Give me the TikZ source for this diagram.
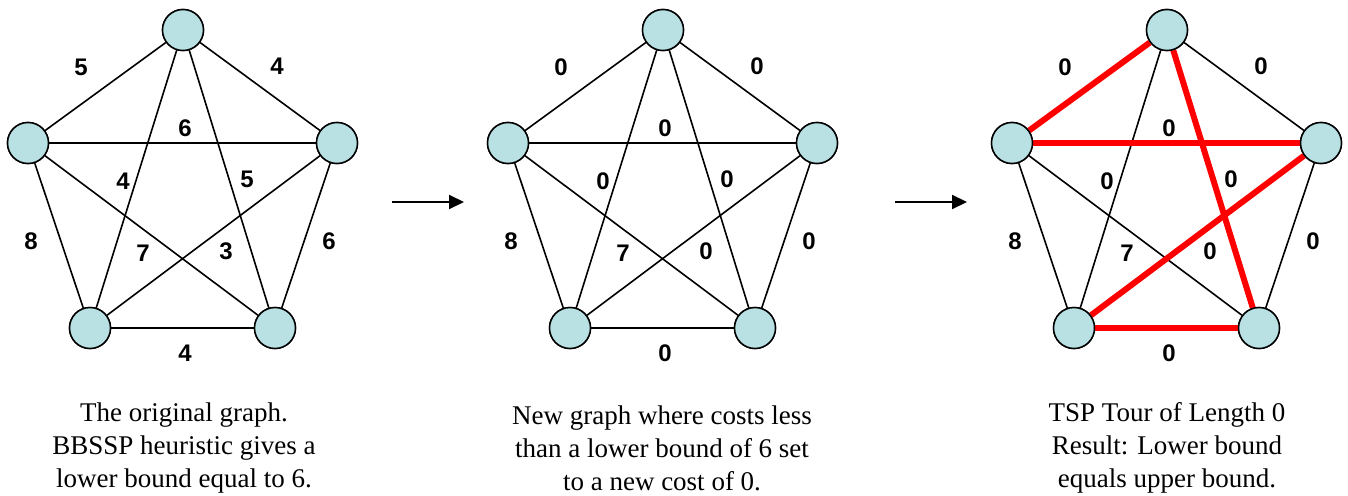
\documentclass[tikz,border=0pt]{standalone}
\usepackage{fontspec}
\setmainfont{Liberation Serif}
\newfontfamily\capfont{Liberation Serif}
\newfontfamily\lblfont{Liberation Sans Bold}
\usetikzlibrary{arrows.meta}
\definecolor{nodefill}{RGB}{185,224,227}
\definecolor{tourred}{RGB}{255,0,0}

\begin{document}
\begin{tikzpicture}[x=1pt,y=-1pt,
  vertex/.style={circle,draw=black,line width=1.5pt,fill=nodefill,minimum size=41pt,inner sep=0pt},
  edge/.style={line width=1.6pt},
  tour/.style={line width=6pt,draw=tourred},
  cost/.style={font=\lblfont\fontsize{24}{26}\selectfont,inner sep=0pt},
  caption/.style={align=center,font=\capfont\fontsize{27}{33}\selectfont},
  flow/.style={line width=2pt,-{Triangle[length=15pt,width=14pt]}}]
\useasboundingbox (0,0) rectangle (1348,495);

% ---------- vertices ----------
\node[vertex] (t1) at (183,30) {};
\node[vertex] (l1) at (28,143) {};
\node[vertex] (r1) at (337,143) {};
\node[vertex] (p1) at (90,328) {};
\node[vertex] (q1) at (275,328) {};

\node[vertex] (t2) at (663,30) {};
\node[vertex] (l2) at (508,143) {};
\node[vertex] (r2) at (817,143) {};
\node[vertex] (p2) at (570,328) {};
\node[vertex] (q2) at (755,328) {};

\node[vertex] (t3) at (1167,30) {};
\node[vertex] (l3) at (1012,143) {};
\node[vertex] (r3) at (1321,143) {};
\node[vertex] (p3) at (1074,328) {};
\node[vertex] (q3) at (1259,328) {};

% ---------- edges: complete graphs K5 ----------
\foreach \g in {1,2} {
  \draw[edge] (t\g) -- (l\g);
  \draw[edge] (t\g) -- (r\g);
  \draw[edge] (t\g) -- (p\g);
  \draw[edge] (t\g) -- (q\g);
  \draw[edge] (l\g) -- (r\g);
  \draw[edge] (l\g) -- (p\g);
  \draw[edge] (l\g) -- (q\g);
  \draw[edge] (r\g) -- (p\g);
  \draw[edge] (r\g) -- (q\g);
  \draw[edge] (p\g) -- (q\g);
}
% third graph: thin edges plus the tour in red
\draw[edge] (t3) -- (r3);
\draw[edge] (t3) -- (p3);
\draw[edge] (l3) -- (p3);
\draw[edge] (l3) -- (q3);
\draw[edge] (r3) -- (q3);
\draw[tour] (t3) -- (l3);
\draw[tour] (l3) -- (r3);
\draw[tour] (r3) -- (p3);
\draw[tour] (p3) -- (q3);
\draw[tour] (q3) -- (t3);

% redraw vertices above the edges
\foreach \g in {1,2,3} {
  \foreach \v in {t,l,r,p,q} {
    \node[vertex] at (\v\g) {};
  }
}

% ---------- edge costs ----------
\node[cost] (w1a) at (81,67) {5};
\node[cost] (w1b) at (277,66) {4};
\node[cost] (w1c) at (185,128) {6};
\node[cost] (w1d) at (123,181) {4};
\node[cost] (w1e) at (247,179) {5};
\node[cost] (w1f) at (31,241) {8};
\node[cost] (w1g) at (143,253) {7};
\node[cost] (w1h) at (226,251) {3};
\node[cost] (w1i) at (329,241) {6};
\node[cost] (w1j) at (185,353) {4};

\node[cost] (w2a) at (561,67) {0};
\node[cost] (w2b) at (757,66) {0};
\node[cost] (w2c) at (665,128) {0};
\node[cost] (w2d) at (603,181) {0};
\node[cost] (w2e) at (727,179) {0};
\node[cost] (w2f) at (511,241) {8};
\node[cost] (w2g) at (623,253) {7};
\node[cost] (w2h) at (706,251) {0};
\node[cost] (w2i) at (809,241) {0};
\node[cost] (w2j) at (665,353) {0};

\node[cost] (w3a) at (1065,67) {0};
\node[cost] (w3b) at (1261,66) {0};
\node[cost] (w3c) at (1169,128) {0};
\node[cost] (w3d) at (1107,181) {0};
\node[cost] (w3e) at (1231,179) {0};
\node[cost] (w3f) at (1015,241) {8};
\node[cost] (w3g) at (1127,253) {7};
\node[cost] (w3h) at (1210,251) {0};
\node[cost] (w3i) at (1313,241) {0};
\node[cost] (w3j) at (1169,353) {0};

% ---------- arrows between stages ----------
\coordinate (s1) at (392,202);
\coordinate (e1) at (464,202);
\coordinate (s2) at (895,202);
\coordinate (e2) at (967,202);
\draw[flow] (s1) -- (e1);
\draw[flow] (s2) -- (e2);

% ---------- captions ----------
\node[caption] (c1) at (184,448) {The original graph.\\BBSSP heuristic gives a\\lower bound equal to 6.};
\node[caption] (c2) at (662,448) {New graph where costs less\\than a lower bound of 6 set\\to a new cost of 0.};
\node[caption] (c3) at (1167,448) {TSP Tour of Length 0\\Result: Lower bound\\equals upper bound.};
\end{tikzpicture}
\end{document}
